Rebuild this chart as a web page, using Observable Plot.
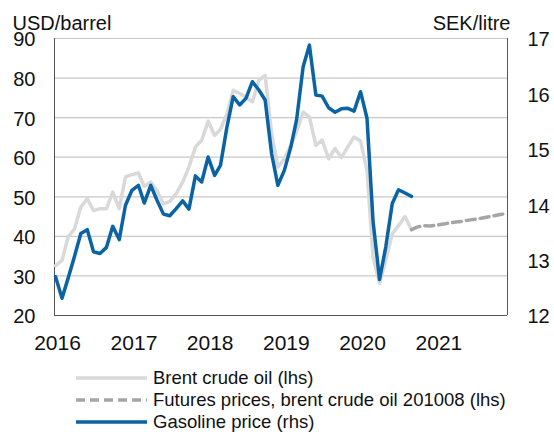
<!DOCTYPE html>
<html><head><meta charset="utf-8">
<script src="https://cdn.jsdelivr.net/npm/d3@7"></script>
<script src="https://cdn.jsdelivr.net/npm/@observablehq/plot@0.6"></script>
<style>
body{margin:0;background:#fff;font-family:"Liberation Sans",Arial,Helvetica,sans-serif;overflow:hidden;}
#chart svg{display:block}
#legend{position:relative;height:72px;}
.row{position:absolute;left:76px;display:flex;align-items:center;font-size:18.5px;color:#111;height:20px;line-height:20px;white-space:nowrap;}
.row svg{margin-right:6px;display:block}
</style></head><body>
<div id="chart"></div>
<div id="legend"></div>
<script>
// ---- data (monthly, starting January 2016) ----
const startMonth = "2016-01-01";
// Brent crude oil, USD/barrel (lhs), Jan 2016 – Sep 2020
const brent = [32.6, 33.9, 39.8, 41.9, 47.4, 49.5, 46.5, 47.0, 47.0, 51.2, 47.0, 55.0,
  55.6, 56.0, 52.6, 53.7, 51.6, 48.2, 48.8, 50.8, 53.7, 57.5, 62.6, 64.3,
  69.1, 65.5, 67.0, 71.0, 76.9, 76.1, 75.2, 74.0, 79.4, 80.7, 66.0, 57.5,
  59.6, 63.0, 66.6, 71.4, 70.2, 63.0, 64.3, 59.6, 62.2, 59.9, 62.6, 65.1,
  64.1, 56.7, 34.7, 28.1, 34.0, 40.6, 42.7, 45.0, 41.6];
// Futures prices, brent crude oil 201008, USD/barrel (lhs), Sep 2020 – Dec 2021
const futuresStart = "2020-09-01";
const futures = [41.7, 42.4, 42.7, 42.6, 42.9, 43.1, 43.4, 43.6, 43.8, 44.1, 44.3, 44.6, 44.9, 45.2, 45.5, 45.8];
// Gasoline price, SEK/litre (rhs), Jan 2016 – Sep 2020
const gasoline = [12.70, 12.31, 12.67, 13.07, 13.48, 13.55, 13.15, 13.12, 13.23, 13.61, 13.37, 13.99,
  14.26, 14.35, 14.03, 14.35, 14.08, 13.83, 13.80, 13.93, 14.07, 13.92, 14.52, 14.41,
  14.86, 14.53, 14.71, 15.40, 15.95, 15.80, 15.92, 16.22, 16.07, 15.89, 14.92, 14.35,
  14.62, 15.04, 15.54, 16.49, 16.88, 15.98, 15.96, 15.75, 15.67, 15.73, 15.74, 15.69,
  16.04, 15.56, 13.70, 12.65, 13.24, 14.02, 14.27, 14.21, 14.15];
// axes
const usdTicks = [20, 30, 40, 50, 60, 70, 80, 90];
const sekTicks = [12, 13, 14, 15, 16, 17];
const yearTicks = [2016, 2017, 2018, 2019, 2020, 2021];
const seriesNames = ["Brent crude oil (lhs)", "Futures prices, brent crude oil 201008 (lhs)", "Gasoline price (rhs)"];
const colors = {brent: "#d9d9d9", futures: "#a5a5a5", gasoline: "#0a64a4"};

// ---- build tables ----
const monthOf = (start, i) => d3.utcMonth.offset(new Date(start), i);
const brentData = brent.map((v, i) => ({date: monthOf(startMonth, i), v}));
const futuresData = futures.map((v, i) => ({date: monthOf(futuresStart, i), v}));
// right axis SEK 12..17 shares the frame with USD 20..90
const sekToUsd = s => 20 + (s - 12) * 14;
const usdToSek = u => 12 + (u - 20) / 14;
const gasData = gasoline.map((v, i) => ({date: monthOf(startMonth, i), v: sekToUsd(v)}));
const xDomain = [new Date("2015-12-27"), new Date("2021-12-05")];

const chart = Plot.plot({
  width: 554,
  height: 360,
  marginLeft: 54,
  marginRight: 47,
  marginTop: 38,
  marginBottom: 45,
  style: {fontFamily: '"Liberation Sans", Arial, Helvetica, sans-serif', fontSize: "20px", color: "#111", background: "#fff"},
  x: {type: "utc", domain: xDomain},
  y: {domain: [20, 90]},
  marks: [
    Plot.gridY(usdTicks.filter(d => d > 20), {stroke: "#c8c8c8", strokeOpacity: 1, strokeWidth: 1.2}),
    Plot.axisY(usdTicks, {anchor: "left", tickSize: 0, tickPadding: 19, fontSize: 20, dy: 1.5, label: null}),
    Plot.axisY(sekTicks.map(sekToUsd), {anchor: "right", tickSize: 0, tickPadding: 20, fontSize: 20, dy: 1.5, label: null, tickFormat: d => d3.format("d")(usdToSek(d))}),
    Plot.axisX(yearTicks.map(y => new Date(Date.UTC(y, 0, 1))), {tickSize: 0, tickPadding: 20, fontSize: 21, dx: 2, tickFormat: d3.utcFormat("%Y"), label: null}),
    Plot.ruleX(xDomain, {stroke: "#555", strokeWidth: 1}),
    Plot.ruleY([20], {stroke: "#555", strokeWidth: 1}),
    Plot.lineY(brentData, {x: "date", y: "v", stroke: colors.brent, strokeWidth: 3.5}),
    Plot.lineY(futuresData, {x: "date", y: "v", stroke: colors.futures, strokeWidth: 3.5, strokeDasharray: "9,5"}),
    Plot.lineY(gasData, {x: "date", y: "v", stroke: colors.gasoline, strokeWidth: 3.5}),
    Plot.text(["USD/barrel"], {frameAnchor: "top-left", lineAnchor: "middle", dx: -42, dy: -14.5, textAnchor: "start", fontSize: 20, fill: "#111"}),
    Plot.text(["SEK/litre"], {frameAnchor: "top-right", lineAnchor: "middle", dx: 3, dy: -14.5, textAnchor: "end", fontSize: 20, fill: "#111"})
  ]
});
document.getElementById("chart").append(chart);

// ---- legend (below the svg) ----
const legend = document.getElementById("legend");
const styles = [
  {color: colors.brent, dash: null},
  {color: colors.futures, dash: "9,5"},
  {color: colors.gasoline, dash: null}
];
const tops = [8, 30, 51.5];
seriesNames.forEach((name, i) => {
  const row = document.createElement("div");
  row.className = "row";
  row.style.top = tops[i] + "px";
  const s = styles[i];
  row.innerHTML = `<svg width="71" height="8"><line x1="0" x2="71" y1="4" y2="4" stroke="${s.color}" stroke-width="3.5"${s.dash ? ` stroke-dasharray="${s.dash}"` : ""}/></svg><span>${name}</span>`;
  legend.append(row);
});
</script>
</body></html>
